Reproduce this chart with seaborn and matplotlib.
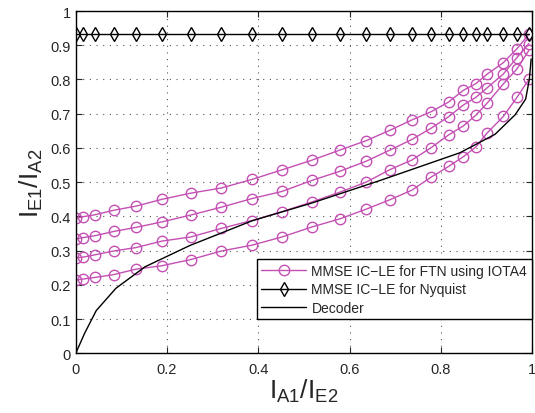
import numpy as np
import matplotlib
matplotlib.use("Agg")
import matplotlib.pyplot as plt
import pandas as pd
import seaborn as sns

# shared x positions of the markers
x_pts = [0.0, 0.0154, 0.043, 0.083, 0.132, 0.189, 0.252, 0.319, 0.386, 0.452,
         0.517, 0.579, 0.636, 0.689, 0.737, 0.779, 0.817, 0.849, 0.877, 0.901,
         0.937, 0.967, 0.993]

ftn_a = [0.394, 0.399, 0.405, 0.418, 0.430, 0.450, 0.468, 0.483, 0.508, 0.536,
         0.564, 0.594, 0.621, 0.652, 0.682, 0.706, 0.734, 0.768, 0.788, 0.815,
         0.849, 0.890, 0.932]
ftn_b = [0.334, 0.338, 0.344, 0.356, 0.368, 0.384, 0.404, 0.427, 0.452, 0.473,
         0.505, 0.532, 0.561, 0.594, 0.625, 0.658, 0.691, 0.725, 0.748, 0.775,
         0.816, 0.864, 0.905]
ftn_c = [0.279, 0.281, 0.288, 0.299, 0.309, 0.328, 0.340, 0.365, 0.388, 0.414,
         0.442, 0.471, 0.500, 0.537, 0.565, 0.601, 0.638, 0.664, 0.696, 0.730,
         0.787, 0.831, 0.885]
ftn_d = [0.214, 0.217, 0.222, 0.230, 0.246, 0.256, 0.274, 0.299, 0.316, 0.340,
         0.369, 0.393, 0.421, 0.449, 0.477, 0.515, 0.546, 0.574, 0.603, 0.643,
         0.692, 0.748, 0.800]

nyq_y = [0.934] * len(x_pts)

dec_x = [0.0, 0.02, 0.045, 0.088, 0.152, 0.25, 0.386, 0.517, 0.667, 0.842,
         0.919, 0.963, 0.986, 0.994, 0.998]
dec_y = [0.0, 0.06, 0.125, 0.19, 0.253, 0.315, 0.387, 0.439, 0.505, 0.586,
         0.640, 0.697, 0.743, 0.800, 0.860]

x_ticks = [0, 0.2, 0.4, 0.6, 0.8, 1]
x_tick_labels = ["0", "0.2", "0.4", "0.6", "0.8", "1"]
y_ticks = [0, 0.1, 0.2, 0.3, 0.4, 0.5, 0.6, 0.7, 0.8, 0.9, 1]
y_tick_labels = ["0", "0.1", "0.2", "0.3", "0.4", "0.5", "0.6", "0.7", "0.8", "0.9", "1"]

ftn = pd.DataFrame({
    "x": x_pts * 4,
    "y": ftn_a + ftn_b + ftn_c + ftn_d,
    "curve": np.repeat(["a", "b", "c", "d"], len(x_pts)),
})
nyq = pd.DataFrame({"x": x_pts, "y": nyq_y})
dec = pd.DataFrame({"x": dec_x, "y": dec_y})

sns.set_style("ticks")
plt.rcParams["font.family"] = ["Liberation Sans", "DejaVu Sans"]

pink = "#c450b4"

fig = plt.figure(figsize=(5.35, 4.14), dpi=100)
ax = fig.add_axes([0.1415, 0.144, 0.853, 0.827])

sns.lineplot(data=ftn, x="x", y="y", units="curve", estimator=None, sort=False,
             color=pink, lw=1, marker="o", markersize=7.5, markerfacecolor="none",
             markeredgecolor=pink, markeredgewidth=1,
             label="MMSE IC\u2212LE for FTN using IOTA4", ax=ax)
sns.lineplot(data=nyq, x="x", y="y", estimator=None, sort=False,
             color="black", lw=1, marker="d", markersize=7, markerfacecolor="none",
             markeredgecolor="black", markeredgewidth=1,
             label="MMSE IC\u2212LE for Nyquist", ax=ax)
sns.lineplot(data=dec, x="x", y="y", estimator=None, sort=False,
             color="black", lw=1, label="Decoder", ax=ax)

ax.set_xlim(0, 1)
ax.set_ylim(0, 1)
ax.set_xticks(x_ticks)
ax.set_xticklabels(x_tick_labels)
ax.set_yticks(y_ticks)
ax.set_yticklabels(y_tick_labels)
ax.tick_params(direction="in", top=True, right=True, labelsize=10.5,
               colors="#262626", length=4, width=0.8)
ax.tick_params(axis="x", pad=6)
ax.grid(True, linestyle=(0, (1, 5)), color="#555555", lw=0.8)
for s in ax.spines.values():
    s.set_color("black")
    s.set_linewidth(1)

ax.set_xlabel(r"$\mathregular{I_{A1}/I_{E2}}$", fontsize=19, labelpad=1)
ax.set_ylabel(r"$\mathregular{I_{E1}/I_{A2}}$", fontsize=19, labelpad=4)

h, l = ax.get_legend_handles_labels()
seen = {}
for hh, ll in zip(h, l):
    if ll not in seen:
        seen[ll] = hh
leg = ax.legend(list(seen.values()), list(seen.keys()), loc="lower right",
                bbox_to_anchor=(1.0, 0.099), fontsize=10, handlelength=3.2,
                fancybox=False, framealpha=1, edgecolor="black",
                borderaxespad=0, borderpad=0.35, labelspacing=0.3, handletextpad=0.4)
leg.get_frame().set_linewidth(1)

fig.savefig("out.png", dpi=100)
